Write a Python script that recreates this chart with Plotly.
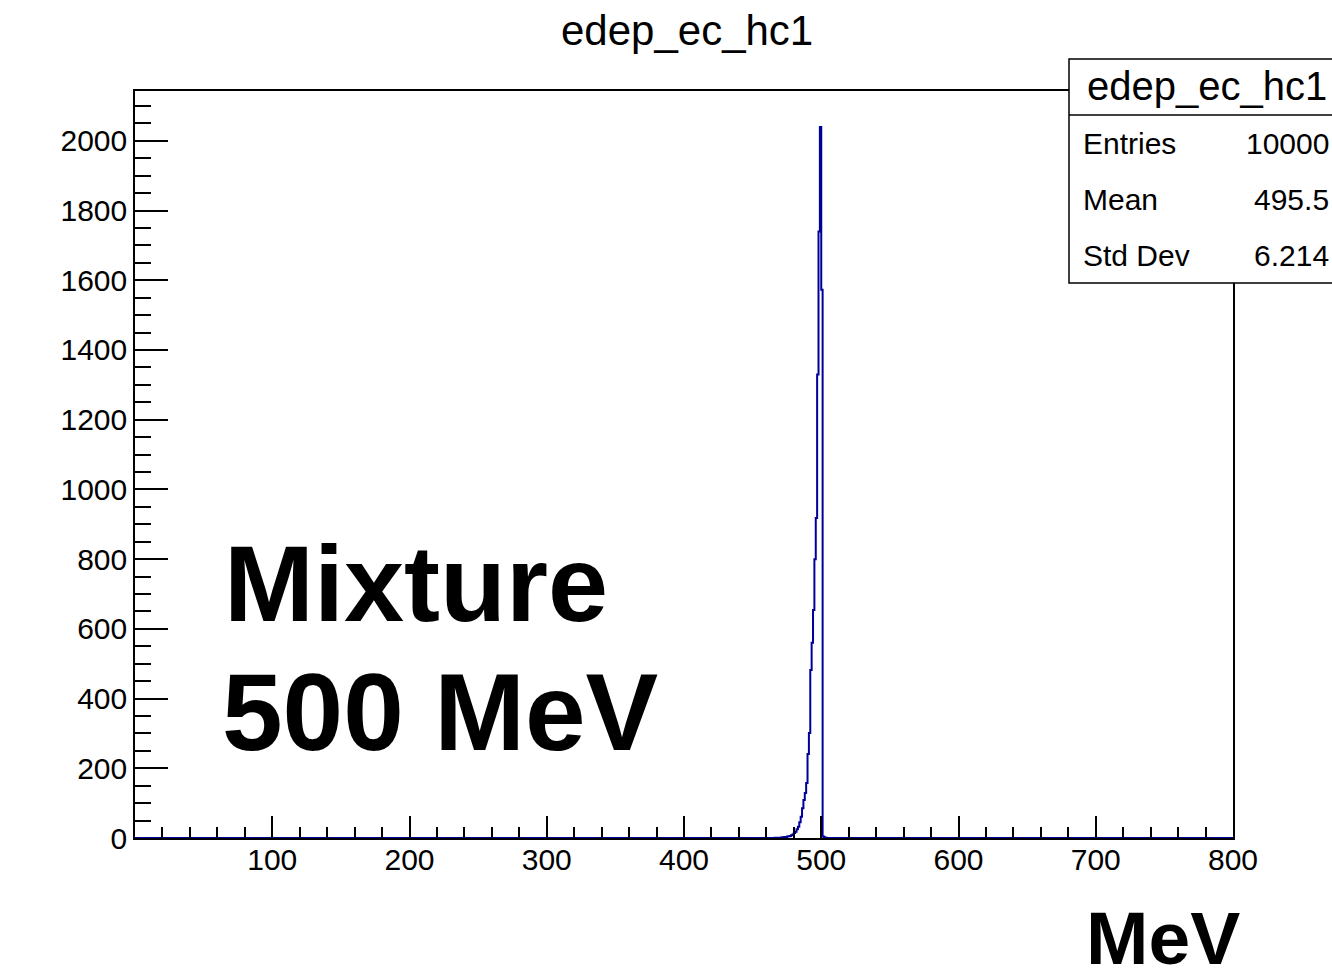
import numpy as np
import plotly.graph_objects as go

# ---------------- data ----------------
x_min, x_max, bin_width = 0.0, 800.0, 1.0          # MeV
bin_low = [466, 468, 469, 470, 471, 472, 473, 474, 475, 476, 477, 478, 479,
           480, 481, 482, 483, 484, 485, 486, 487, 488, 489, 490, 491, 492,
           493, 494, 495, 496, 497, 498, 499, 500, 501, 502, 503]
counts = [1, 1, 1, 1, 2, 2, 3, 3, 4, 5, 6, 8, 10,
          14, 18, 25, 32, 45, 61, 85, 109, 129, 158, 241, 301, 482,
          560, 654, 800, 918, 1330, 1740, 2040, 1573, 4, 2, 1]

hist_title = "edep_ec_hc1"
stat_names = ["Entries", "Mean", "Std Dev"]
stat_values = ["10000", "495.5", "6.214"]
x_tickvals = [0, 100, 200, 300, 400, 500, 600, 700, 800]
x_ticktext = ["", "100", "200", "300", "400", "500", "600", "700", "800"]
y_tickvals = list(range(0, 2001, 200))
big_label_1 = "Mixture"
big_label_2 = "500 MeV"
x_axis_title = "MeV"
y_max = 2143

# full histogram (zeros elsewhere)
n_bins = int((x_max - x_min) / bin_width)
edges = x_min + bin_width * np.arange(n_bins + 1)
full = np.zeros(n_bins)
for lo, c in zip(bin_low, counts):
    full[int((lo - x_min) / bin_width)] = c
step_x = np.concatenate([edges[:-1], [edges[-1]]])
step_y = np.concatenate([full, [full[-1]]])

# ---------------- layout geometry (screen px) ----------------
W, H = 1332, 971
PL, PR, PT, PB = 135, 1233, 91, 838
FONT = "Liberation Sans, Arial, Helvetica, sans-serif"


def px(X):
    return (X - PL) / (PR - PL)


def py(Y):
    return (PB - Y) / (PB - PT)


fig = go.Figure()
fig.add_trace(go.Scatter(
    x=step_x, y=step_y, mode="lines", line_shape="hv",
    line=dict(color="#000099", width=2), hoverinfo="skip", showlegend=False))

axis_common = dict(showline=True, linecolor="black", linewidth=1.5, mirror=True,
                   showgrid=False, zeroline=False, ticks="inside",
                   tickcolor="black", tickwidth=1.5,
                   tickfont=dict(family=FONT, size=30, color="black"))

fig.update_xaxes(range=[x_min, x_max], tickmode="array", tickvals=x_tickvals,
                 ticktext=x_ticktext, ticklen=22, ticklabelstandoff=-6,
                 minor=dict(ticks="inside", tickmode="linear", tick0=0, dtick=20,
                            ticklen=11, tickcolor="black", tickwidth=1.5),
                 **axis_common)
fig.update_yaxes(range=[0, y_max], tickmode="array", tickvals=y_tickvals,
                 ticklen=33,
                 minor=dict(ticks="inside", tickmode="linear", tick0=0, dtick=50,
                            ticklen=16, tickcolor="black", tickwidth=1.5),
                 **axis_common)

# stats box
box_l, box_r, box_t, box_b, box_sep = 1069, 1360, 59, 283, 115
fig.add_shape(type="rect", xref="paper", yref="paper",
              x0=px(box_l), x1=px(box_r), y0=py(box_b), y1=py(box_t),
              fillcolor="white", line=dict(color="black", width=1.5), layer="above")
fig.add_shape(type="line", xref="paper", yref="paper",
              x0=px(box_l), x1=px(box_r), y0=py(box_sep), y1=py(box_sep),
              line=dict(color="black", width=1.5), layer="above")

ann = []
ann.append(dict(text=hist_title, x=px(687), y=py(30), xanchor="center", yanchor="middle",
                font=dict(family=FONT, size=42, color="black")))
ann.append(dict(text=hist_title, x=px(1085), y=py(86), xanchor="left", yanchor="middle",
                font=dict(family=FONT, size=40, color="black")))
for i, (n, v) in enumerate(zip(stat_names, stat_values)):
    yc = 143 + i * 56.5
    ann.append(dict(text=n, x=px(1081), y=py(yc), xanchor="left", yanchor="middle",
                    font=dict(family=FONT, size=30, color="black")))
    ann.append(dict(text=v, x=px(1331), y=py(yc), xanchor="right", yanchor="middle",
                    font=dict(family=FONT, size=30, color="black")))
ann.append(dict(text="<b>%s</b>" % big_label_1, x=px(222), y=py(583), xanchor="left",
                yanchor="middle", font=dict(family=FONT, size=108, color="black")))
ann.append(dict(text="<b>%s</b>" % big_label_2, x=px(220), y=py(712), xanchor="left",
                yanchor="middle", font=dict(family=FONT, size=109, color="black")))
ann.append(dict(text="<b>%s</b>" % x_axis_title, x=px(1242), y=py(938), xanchor="right",
                yanchor="middle", height=62, valign="middle",
                font=dict(family=FONT, size=75, color="black")))
for a in ann:
    a.update(xref="paper", yref="paper", showarrow=False)
fig.update_layout(annotations=ann)

fig.update_layout(width=W, height=H, autosize=False,
                  margin=dict(l=PL, r=W - PR, t=PT, b=H - PB, pad=0),
                  paper_bgcolor="white", plot_bgcolor="white",
                  font=dict(family=FONT, color="black"))

fig.write_html("out.html", config={"displayModeBar": False},
               post_script="document.body.style.margin='0';document.body.style.overflow='hidden';")
